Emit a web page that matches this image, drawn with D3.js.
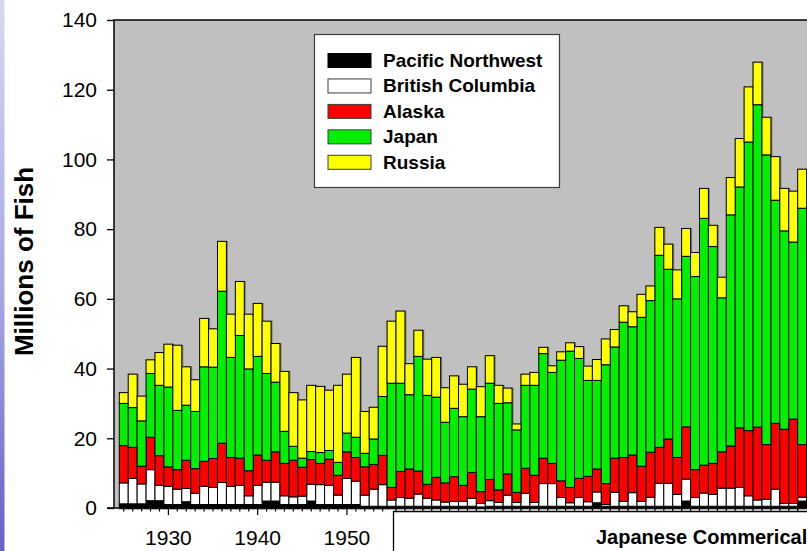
<!DOCTYPE html>
<html>
<head>
<meta charset="utf-8">
<script src="https://cdn.jsdelivr.net/npm/d3@7/dist/d3.min.js"></script>
<style>
  html, body { margin: 0; padding: 0; background: #fff; }
  svg { display: block; font-family: "Liberation Sans", Arial, sans-serif; }
</style>
</head>
<body>
<svg id="chart" width="807" height="551"></svg>
<script>
// catch by region, millions of fish, one value per year 1925-2001
var years = d3.range(1925, 2002);
var pacificNW = [1.2,1.2,1.2,2.1,2.1,1.0,1.0,1.8,1.0,1.0, 1.0,1.0,1.0,1.0,1.0,1.0,2.0,2.0,1.0,1.0, 1.0,2.0,1.0,1.0,1.0,1.0,1.0,0.5,0.5,0.5, 0.5,0.5,0.5,0.5,0.5,0.5,0.5,0.5,0.5,0.5, 0.3,0.5,0.5,0.5,0.5,0.5,0.5,0.5,0.5,0.5, 0.5,0.5,0.5,1.5,0.5,0.5,0.5,0.5,0.5,0.5, 0.5,0.5,0.5,2.0,0.5,0.5,0.5,0.5,0.5,0.5, 0.5,0.5,0.5,0.5,0.5,0.5,2.0];
var britishCol = [6.0,7.3,5.7,8.9,4.4,5.2,4.4,3.8,3.2,5.2, 4.9,6.3,5.2,5.5,2.5,5.5,5.4,5.4,2.5,2.2, 2.4,4.8,5.7,5.5,2.7,7.5,6.7,3.2,4.9,6.2, 1.8,2.5,2.3,3.5,2.3,1.8,1.2,1.4,1.4,2.3, 1.0,1.6,1.1,3.2,1.1,3.7,1.1,6.5,6.5,2.5, 1.0,2.5,1.3,3.1,0.5,4.0,1.4,3.9,1.4,2.6, 6.6,6.6,3.4,6.3,2.5,3.8,3.4,5.2,5.2,5.4, 3.0,1.8,2.0,4.9,0.8,0.8,1.1];
var alaska = [10.7,8.9,5.1,9.3,8.5,5.6,5.6,8.1,7.1,7.2, 8.3,11.3,8.3,7.8,7.2,8.7,6.3,8.7,9.3,10.5, 8.3,7.1,6.1,7.5,5.7,7.6,6.8,8.1,7.1,8.4, 3.6,7.5,8.4,6.6,4.0,6.5,5.5,7.1,4.6,7.4, 3.4,6.1,3.6,6.1,2.9,7.2,7.8,7.3,5.8,4.8, 4.4,5.5,7.3,6.6,6.0,9.8,12.6,10.8,10.1,12.9, 10.3,12.7,10.6,15.0,8.0,8.0,8.9,10.4,12.1,17.1, 18.7,20.9,15.7,18.9,21.3,24.2,15.1];
var japan = [12.1,11.4,13.0,18.3,20.2,22.9,17.0,15.8,16.4,27.1, 26.2,43.6,28.7,35.2,29.2,28.3,24.9,20.0,9.2,4.0, 2.6,2.3,3.1,2.5,3.7,5.4,5.8,3.9,7.3,16.9, 29.9,25.3,21.3,32.9,25.5,23.0,17.4,19.6,19.7,23.9, 21.5,27.6,24.8,20.4,17.9,23.8,25.8,30.0,26.1,34.6, 39.1,34.4,27.5,25.4,34.1,31.9,38.8,36.8,42.7,43.5, 55.1,48.7,45.5,48.9,55.4,70.8,62.2,44.2,66.3,69.1, 82.8,92.5,83.1,64.0,56.9,50.8,67.8];
var russia = [3.1,9.6,7.1,3.9,9.4,12.3,18.7,11.0,9.1,13.9, 11.0,14.3,12.4,15.5,15.7,15.2,15.0,11.1,17.2,15.4, 16.7,19.0,19.0,17.3,22.1,16.9,22.9,12.0,9.1,14.4, 17.8,20.7,8.9,7.5,10.4,11.4,9.9,9.3,9.3,6.4, 8.6,7.9,5.2,4.2,1.7,3.2,3.7,1.8,1.9,2.4, 2.4,3.4,4.1,6.0,7.4,5.0,4.7,4.3,6.6,4.2, 8.0,7.2,8.3,8.0,6.9,8.6,6.1,5.9,10.7,13.9, 15.8,12.2,10.8,12.5,12.2,14.6,11.2];

var seriesNames = ["Pacific Northwest", "British Columbia", "Alaska", "Japan", "Russia"];
var seriesColors = ["#000000", "#ffffff", "#ff0000", "#00f000", "#ffff00"];
var yTicks = [0, 20, 40, 60, 80, 100, 120, 140];
var yearLabels = [1930, 1940, 1950];
var boxLabel = "Japanese Commerical";

var rows = years.map(function(yr, i){
    return {year: yr, s0: pacificNW[i], s1: britishCol[i], s2: alaska[i], s3: japan[i], s4: russia[i]};
});
var keys = ["s0", "s1", "s2", "s3", "s4"];
var stacked = d3.stack().keys(keys)(rows);

var svg = d3.select("#chart");
// window.top is read-only, so plain names like "top" won't do here
var plotLeft = 114, plotTop = 20, plotBottom = 508;

var x = d3.scaleBand().domain(years).range([119.3, 119.3 + years.length * 8.926]).padding(0);
var y = d3.scaleLinear().domain([0, 140]).range([plotBottom, plotTop]);

// slide background strip on the left
var defs = svg.append("defs");
var grad = defs.append("linearGradient").attr("id", "strip").attr("x1", 0).attr("y1", 0).attr("x2", 0).attr("y2", 1);
grad.append("stop").attr("offset", "0%").attr("stop-color", "#d8d8f4");
grad.append("stop").attr("offset", "55%").attr("stop-color", "#a4a4e2");
grad.append("stop").attr("offset", "100%").attr("stop-color", "#6262c8");
svg.append("rect").attr("x", 0).attr("y", 0).attr("width", 4.5).attr("height", 551).attr("fill", "url(#strip)");

// plot area
svg.append("rect")
    .attr("x", plotLeft).attr("y", plotTop)
    .attr("width", 807 - plotLeft).attr("height", plotBottom - plotTop)
    .attr("fill", "#c0c0c0");

function total(d){ return d.s0 + d.s1 + d.s2 + d.s3 + d.s4; }

// soft shadow round each bar
svg.append("g").selectAll("rect").data(rows).join("rect")
    .attr("x", function(d){ return x(d.year) + 0.6; })
    .attr("y", function(d){ return y(total(d)) + 0.6; })
    .attr("width", x.bandwidth())
    .attr("height", function(d){ return plotBottom - y(total(d)); })
    .attr("fill", "none")
    .attr("stroke", "#777")
    .attr("stroke-width", 1.8);

svg.append("g").selectAll("g").data(stacked).join("g")
    .attr("fill", function(d, i){ return seriesColors[i]; })
    .selectAll("rect").data(function(d){ return d; }).join("rect")
    .attr("x", function(d){ return x(d.data.year); })
    .attr("y", function(d){ return y(d[1]); })
    .attr("width", x.bandwidth())
    .attr("height", function(d){ return y(d[0]) - y(d[1]); })
    .attr("stroke", "#000")
    .attr("stroke-width", 1);

// frame: top and left edges
svg.append("path")
    .attr("d", "M" + plotLeft + "," + plotBottom + "V" + plotTop + "H807")
    .attr("fill", "none").attr("stroke", "#000").attr("stroke-width", 1.5);

// y axis
var yAxis = svg.append("g")
    .attr("transform", "translate(" + plotLeft + ",0)")
    .call(d3.axisLeft(y).tickValues(yTicks).tickSize(7).tickPadding(10).tickSizeOuter(0));
yAxis.select(".domain").remove();
yAxis.selectAll("line").attr("stroke", "#000").attr("stroke-width", 1.3);
yAxis.selectAll("text")
    .attr("font-family", "'Liberation Sans', Arial, sans-serif")
    .attr("font-size", 21).attr("fill", "#000");

svg.append("text")
    .attr("transform", "translate(33,261.5) rotate(-90)")
    .attr("text-anchor", "middle")
    .attr("font-size", 26).attr("font-weight", "bold")
    .text("Millions of Fish");

// x axis
svg.append("line").attr("x1", plotLeft - 7).attr("x2", 807).attr("y1", plotBottom).attr("y2", plotBottom)
    .attr("stroke", "#000").attr("stroke-width", 1.5);

var earlyYears = years.filter(function(yr){ return yr < 1955; });
svg.append("g").selectAll("line").data(earlyYears).join("line")
    .attr("x1", function(d){ return x(d) + x.bandwidth() / 2; })
    .attr("x2", function(d){ return x(d) + x.bandwidth() / 2; })
    .attr("y1", plotBottom)
    .attr("y2", function(d){ return d % 10 === 0 ? plotBottom + 7 : plotBottom + 3.5; })
    .attr("stroke", "#000").attr("stroke-width", 1.2);

svg.append("g").selectAll("text").data(yearLabels).join("text")
    .attr("x", function(d){ return x(d) + x.bandwidth() / 2; })
    .attr("y", 545)
    .attr("text-anchor", "middle")
    .attr("font-size", 21)
    .text(function(d){ return d; });

// boxed caption underneath, with its little tick row
var lateYears = years.filter(function(yr){ return yr >= 1956; });
svg.append("g").selectAll("line").data(lateYears).join("line")
    .attr("x1", function(d){ return x(d); })
    .attr("x2", function(d){ return x(d); })
    .attr("y1", plotBottom).attr("y2", plotBottom + 3.5)
    .attr("stroke", "#000").attr("stroke-width", 1.2);

svg.append("path")
    .attr("d", "M393.5,551V511.5H807")
    .attr("fill", "none").attr("stroke", "#000").attr("stroke-width", 1.3);

svg.append("text")
    .attr("x", 596).attr("y", 544)
    .attr("font-size", 20).attr("font-weight", "bold")
    .text(boxLabel);

// legend
var legend = svg.append("g");
legend.append("rect")
    .attr("x", 314.5).attr("y", 34.5).attr("width", 245).attr("height", 153)
    .attr("fill", "#fff").attr("stroke", "#3c3c3c").attr("stroke-width", 1.2);
var items = legend.selectAll("g").data(seriesNames).join("g")
    .attr("transform", function(d, i){ return "translate(328," + (53.5 + i * 25.45) + ")"; });
items.append("rect")
    .attr("width", 43).attr("height", 14)
    .attr("fill", function(d, i){ return seriesColors[i]; })
    .attr("stroke", function(d, i){ return i === 0 ? "#000" : "#3c3c3c"; })
    .attr("stroke-width", 1);
items.append("text")
    .attr("x", 55).attr("y", 13.5)
    .attr("font-size", 19).attr("font-weight", "bold")
    .text(function(d){ return d; });
</script>
</body>
</html>
